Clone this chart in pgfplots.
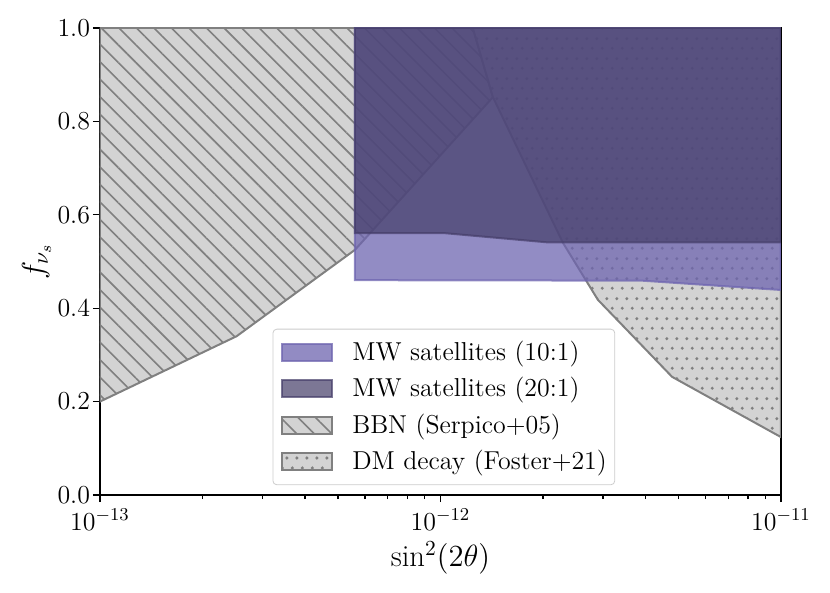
\RequirePackage{fix-cm}
\documentclass[border=0pt]{standalone}
\usepackage{fontspec}
\usepackage{pgfplots}
\usepackage{pgfplotstable}
\pgfplotsset{compat=1.18}
\usetikzlibrary{patterns,patterns.meta}

\definecolor{mwlight}{RGB}{110,101,176}
\definecolor{mwdark}{RGB}{69,62,105}
\definecolor{limfill}{RGB}{211,211,211}
\definecolor{limedge}{RGB}{128,128,128}

% staggered dots, like matplotlib's '.' hatch
\pgfdeclarepatternformonly{stagdots}{\pgfqpoint{0bp}{0bp}}{\pgfqpoint{5bp}{10bp}}{\pgfqpoint{5bp}{10bp}}{
  \pgfpathcircle{\pgfqpoint{1.25bp}{2.5bp}}{0.9bp}
  \pgfpathcircle{\pgfqpoint{3.75bp}{7.5bp}}{0.9bp}
  \pgfusepath{fill}
}

\tikzset{
  bbnhatch/.style={pattern={Lines[angle=-45,distance=6.2bp,line width=0.8bp]}, pattern color=limedge},
  dmdots/.style={pattern=stagdots, pattern color=limedge},
  mwten/.style={fill=mwlight, draw=mwlight, opacity=0.75, line width=1bp},
  mwtwenty/.style={fill=mwdark, draw=mwdark, opacity=0.7, line width=1bp},
}

% region outlines
\pgfplotstableread{
x y
1e-13 1.0
1e-13 0.2
2.52e-13 0.34
5.61e-13 0.525
1.426e-12 0.852
1.245e-12 1.0
}\bbntable

\pgfplotstableread{
x y
1.245e-12 1.0
1.426e-12 0.852
2.29e-12 0.540
2.9e-12 0.418
4.79e-12 0.253
1e-11 0.124
1e-11 1.0
}\dmtable

\pgfplotstableread{
x y
5.61e-13 1.0
5.61e-13 0.460
3.9e-12 0.459
1e-11 0.439
1e-11 1.0
}\mwtentable

\pgfplotstableread{
x y
5.61e-13 1.0
5.61e-13 0.561
1.017e-12 0.561
2.06e-12 0.541
1e-11 0.541
1e-11 1.0
}\mwtwentytable

\begin{document}
\begin{tikzpicture}
\begin{axis}[
  scale only axis,
  width=340.5bp, height=233.5bp,
  xmode=log,
  xmin=1e-13, xmax=1e-11,
  ymin=0, ymax=1,
  ytick={0,0.2,0.4,0.6,0.8,1.0},
  yticklabel style={xshift=2bp, /pgf/number format/.cd, fixed, fixed zerofill, precision=1},
  tick align=outside,
  xtick pos=bottom, ytick pos=left,
  major tick length=3.5bp, minor tick length=2bp,
  every tick/.style={black, line width=0.6bp},
  axis line style={line width=0.8bp},
  ticklabel style={font=\fontsize{13}{15}\selectfont},
  xlabel={$\sin^2(2\theta)$},
  ylabel={$f_{\nu_s}$},
  every axis x label/.style={at={(axis description cs:0.5,-0.1349)}, anchor=center,
    font=\fontsize{15.4}{18}\selectfont},
  every axis y label/.style={at={(axis description cs:-0.093,0.5)}, anchor=center, rotate=90,
    font=\fontsize{15.4}{18}\selectfont},
  legend cell align=left,
  legend style={at={(0.505,0.021)}, anchor=south, draw=black!20, rounded corners=2bp,
    fill=white,
    font=\fontsize{13}{15}\selectfont,
    nodes={inner sep=0pt},
    inner xsep=4bp, inner ysep=6bp, row sep=7bp, column sep=0pt},
]

\addlegendimage{legend image code/.code={
  \fill[mwten, sharp corners] (0bp,-4.25bp) rectangle (25bp,4.25bp);
  \path (35bp,0bp);}}
\addlegendentry{MW satellites (10:1)}
\addlegendimage{legend image code/.code={
  \fill[mwtwenty, sharp corners] (0bp,-4.25bp) rectangle (25bp,4.25bp);
  \path (35bp,0bp);}}
\addlegendentry{MW satellites (20:1)}
\addlegendimage{legend image code/.code={
  \fill[limfill, sharp corners] (0bp,-4.25bp) rectangle (25bp,4.25bp);
  \fill[bbnhatch, sharp corners] (0bp,-4.25bp) rectangle (25bp,4.25bp);
  \draw[limedge, line width=1bp, sharp corners] (0bp,-4.25bp) rectangle (25bp,4.25bp);
  \path (35bp,0bp);}}
\addlegendentry{BBN (Serpico+05)}
\addlegendimage{legend image code/.code={
  \fill[limfill, sharp corners] (0bp,-4.25bp) rectangle (25bp,4.25bp);
  \fill[dmdots, sharp corners] (0bp,-4.25bp) rectangle (25bp,4.25bp);
  \draw[limedge, line width=1bp, sharp corners] (0bp,-4.25bp) rectangle (25bp,4.25bp);
  \path (35bp,0bp);}}
\addlegendentry{DM decay (Foster+21)}

% BBN (Serpico+05)
\addplot[fill=limfill, draw=none, forget plot] table {\bbntable} -- cycle;
\addplot[bbnhatch, draw=none, forget plot] table {\bbntable} -- cycle;
\addplot[draw=limedge, line width=1bp, forget plot] table {\bbntable} -- cycle;

% DM decay (Foster+21)
\addplot[fill=limfill, draw=none, forget plot] table {\dmtable} -- cycle;
\addplot[dmdots, draw=none, forget plot] table {\dmtable} -- cycle;
\addplot[draw=limedge, line width=1bp, forget plot] table {\dmtable} -- cycle;

% MW satellites (10:1)
\addplot[mwten, forget plot] table {\mwtentable} -- cycle;

% MW satellites (20:1)
\addplot[mwtwenty, forget plot] table {\mwtwentytable} -- cycle;

\end{axis}
\path (current axis.south west) ++(-50bp,-49bp);
\path (current axis.north east) ++(24.5bp,14bp);
\end{tikzpicture}
\end{document}
